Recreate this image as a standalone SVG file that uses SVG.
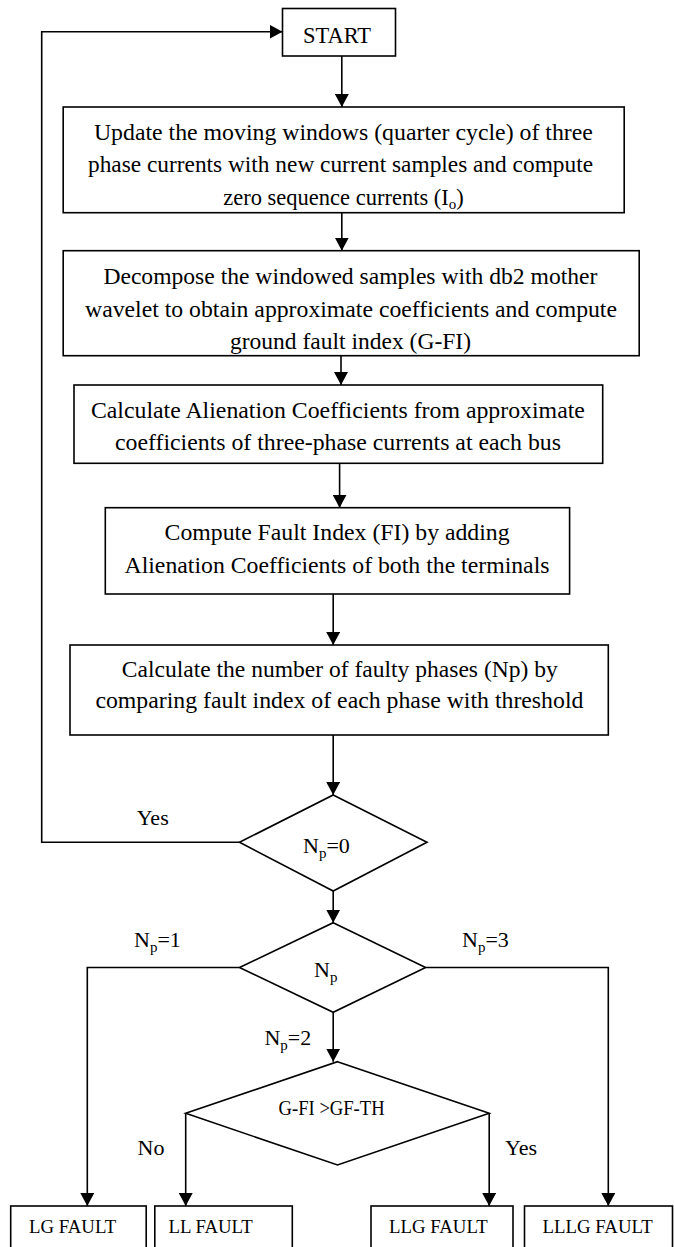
<svg xmlns="http://www.w3.org/2000/svg" width="674" height="1247" viewBox="0 0 674 1247">
<style>
.box{fill:#fff;stroke:#000;stroke-width:1.6}
.ln{fill:none;stroke:#000;stroke-width:1.6}
.t{font-family:"Liberation Serif","Times New Roman",serif;font-size:22.5px;fill:#000;text-anchor:middle}
.s{font-family:"Liberation Serif","Times New Roman",serif;font-size:22px;fill:#000}
.f{font-family:"Liberation Serif","Times New Roman",serif;font-size:18.8px;fill:#000}
.sub{font-size:15px}
</style>
<defs>
<marker id="ah" markerUnits="userSpaceOnUse" markerWidth="14" markerHeight="14" refX="13" refY="7" orient="auto">
<path d="M0,0 L13,7 L0,14 Z" fill="#000"/>
</marker>
</defs>
<g id="start"><rect class="box" x="282.5" y="8.5" width="113" height="47.5"/><text class="t" x="337" y="43" font-size="24">START</text></g>
<g id="box1"><rect class="box" x="63.2" y="107" width="561" height="105.7"/>
<text class="t" x="343.4" y="140" textLength="499" lengthAdjust="spacingAndGlyphs">Update the moving windows (quarter cycle) of three</text>
<text class="t" x="340.5" y="172" textLength="505" lengthAdjust="spacingAndGlyphs">phase currents with new current samples and compute</text>
<text class="t" x="343.5" y="204.5" font-size="24">zero sequence currents (I<tspan class="sub" dy="4">o</tspan><tspan dy="-4">)</tspan></text></g>
<g id="box2"><rect class="box" x="63.2" y="250.7" width="576" height="105"/>
<text class="t" x="350.4" y="284" textLength="494" lengthAdjust="spacingAndGlyphs">Decompose the windowed samples with db2 mother</text>
<text class="t" x="351" y="316.5" textLength="532" lengthAdjust="spacingAndGlyphs">wavelet to obtain approximate coefficients and compute</text>
<text class="t" x="350.5" y="349" textLength="241" lengthAdjust="spacingAndGlyphs">ground fault index (G-FI)</text></g>
<g id="box3"><rect class="box" x="74" y="385" width="528.7" height="78.3"/>
<text class="t" x="337.9" y="418.3" textLength="494" lengthAdjust="spacingAndGlyphs">Calculate Alienation Coefficients from approximate</text>
<text class="t" x="338" y="450" textLength="446" lengthAdjust="spacingAndGlyphs">coefficients of three-phase currents at each bus</text></g>
<g id="box4"><rect class="box" x="105.3" y="507.7" width="464.3" height="86.3"/>
<text class="t" x="337.1" y="540" textLength="345" lengthAdjust="spacingAndGlyphs">Compute Fault Index (FI) by adding</text>
<text class="t" x="337" y="573.3" textLength="425" lengthAdjust="spacingAndGlyphs">Alienation Coefficients of both the terminals</text></g>
<g id="box5"><rect class="box" x="70" y="645" width="538.3" height="90"/>
<text class="t" x="339.8" y="676.7" textLength="436" lengthAdjust="spacingAndGlyphs">Calculate the number of faulty phases (Np) by</text>
<text class="t" x="339.4" y="708.3" textLength="488" lengthAdjust="spacingAndGlyphs">comparing fault index of each phase with threshold</text></g>
<g id="dec1"><polygon class="box" points="333.2,795 427,842.3 333.2,891 239.5,842.3"/>
<text class="s" x="303" y="853">N<tspan class="sub" dy="5">p</tspan><tspan dy="-5">=0</tspan></text></g>
<g id="dec2"><polygon class="box" points="333.2,922.7 425.6,967.5 333.2,1012.3 239.5,967.5"/>
<text class="s" x="314" y="976.7">N<tspan class="sub" dy="5">p</tspan></text></g>
<g id="dec3"><polygon class="box" points="337.5,1061.7 489.2,1113.3 337.5,1165 185.7,1113.3"/>
<text class="s" x="278.6" y="1115" font-size="16.5" textLength="106" lengthAdjust="spacingAndGlyphs">G-FI &gt;GF-TH</text></g>
<g id="lg"><rect class="box" x="10.7" y="1206" width="135.5" height="45"/><text class="f" x="29" y="1233.3">LG FAULT</text></g>
<g id="ll"><rect class="box" x="154.8" y="1206" width="137.5" height="45"/><text class="f" x="168.5" y="1233.3">LL FAULT</text></g>
<g id="llg"><rect class="box" x="371" y="1206" width="142" height="45"/><text class="f" x="389" y="1233.3">LLG FAULT</text></g>
<g id="lllg"><rect class="box" x="524.5" y="1206" width="148" height="45"/><text class="f" x="542.6" y="1233.3">LLLG FAULT</text></g>
<g id="connectors">
<line class="ln" x1="341.8" y1="56" x2="341.8" y2="107" marker-end="url(#ah)"/>
<line class="ln" x1="341.8" y1="212.7" x2="341.8" y2="250.7" marker-end="url(#ah)"/>
<line class="ln" x1="341" y1="355.7" x2="341" y2="385" marker-end="url(#ah)"/>
<line class="ln" x1="339.6" y1="463.3" x2="339.6" y2="507.7" marker-end="url(#ah)"/>
<line class="ln" x1="333.2" y1="594" x2="333.2" y2="645" marker-end="url(#ah)"/>
<line class="ln" x1="333.2" y1="735" x2="333.2" y2="795" marker-end="url(#ah)"/>
<polyline class="ln" points="239.5,842.3 41.7,842.3 41.7,31.7 282.5,31.7" marker-end="url(#ah)"/>
<line class="ln" x1="333.2" y1="891" x2="333.2" y2="922.7" marker-end="url(#ah)"/>
<polyline class="ln" points="239.5,967.5 87.3,967.5 87.3,1206" marker-end="url(#ah)"/>
<polyline class="ln" points="425.6,967.5 608.3,967.5 608.3,1206" marker-end="url(#ah)"/>
<line class="ln" x1="333.2" y1="1012.3" x2="333.2" y2="1061.7" marker-end="url(#ah)"/>
<line class="ln" x1="185.7" y1="1113.3" x2="185.7" y2="1206" marker-end="url(#ah)"/>
<line class="ln" x1="489.2" y1="1113.3" x2="489.2" y2="1206" marker-end="url(#ah)"/>
<text class="s" x="136.7" y="825">Yes</text>
<text class="s" x="134" y="946.7">N<tspan class="sub" dy="5">p</tspan><tspan dy="-5">=1</tspan></text>
<text class="s" x="462" y="946.7">N<tspan class="sub" dy="5">p</tspan><tspan dy="-5">=3</tspan></text>
<text class="s" x="264.4" y="1045">N<tspan class="sub" dy="5">p</tspan><tspan dy="-5">=2</tspan></text>
<text class="s" x="137.6" y="1155">No</text>
<text class="s" x="505" y="1155">Yes</text>
</g>
</svg>
